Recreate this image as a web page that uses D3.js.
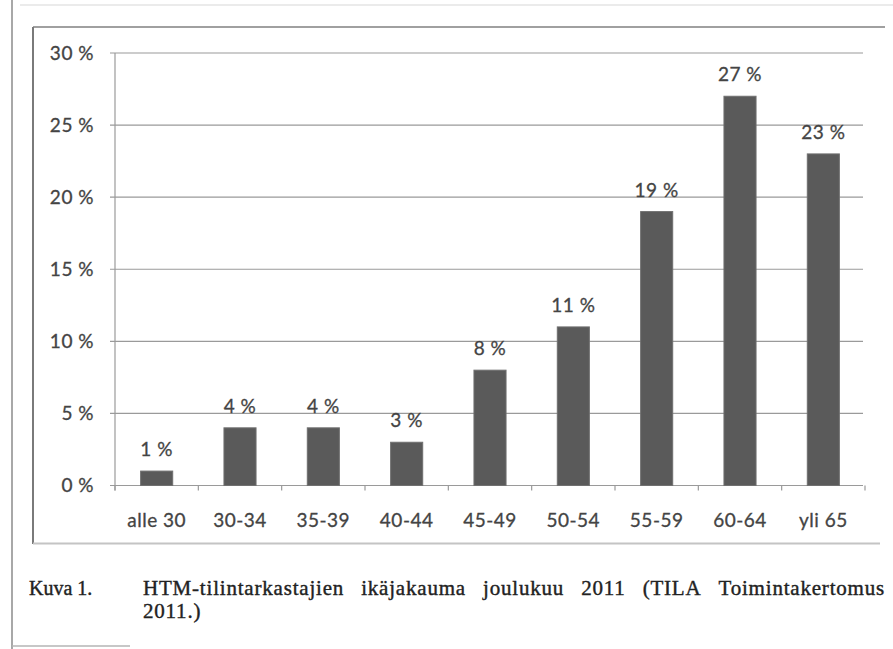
<!DOCTYPE html>
<html lang="fi">
<head>
  <meta charset="utf-8" />
  <title>HTM-tilintarkastajien ikäjakauma</title>
  <script src="https://d3js.org/d3.v7.min.js"></script>
  <style>
    body { margin: 0; background: #fff; }
    svg { display: block; }
    .lbl { font-family: Lato, "Open Sans", sans-serif; fill: #444; stroke: #444; stroke-width: 0.3px; }
    .cap { font-family: "Liberation Serif", "Times New Roman", serif; fill: #222; stroke: #222; stroke-width: 0.4px; }
  </style>
</head>
<body>
  <svg id="viz" width="893" height="649"></svg>
  <script>
    // data
    const categories = ["alle 30", "30-34", "35-39", "40-44", "45-49", "50-54", "55-59", "60-64", "yli 65"];
    const values = [1, 4, 4, 3, 8, 11, 19, 27, 23];
    const yTicks = [0, 5, 10, 15, 20, 25, 30];
    const captionLabel = "Kuva 1.";
    const captionLine1 = ["HTM-tilintarkastajien", "ikäjakauma", "joulukuu", "2011", "(TILA", "Toimintakertomus"];
    const captionLine2 = "2011.)";

    const W = 893, H = 649;
    const plot = { left: 115, right: 865, top: 53, bottom: 485.5 };

    const svg = d3.select("#viz");

    // page / frame lines of the scan
    svg.append("line").attr("x1", 12).attr("x2", 12).attr("y1", 0).attr("y2", H)
      .attr("stroke", "#a8a8a8").attr("stroke-width", 2);
    svg.append("line").attr("x1", 20).attr("x2", W).attr("y1", 5).attr("y2", 5)
      .attr("stroke", "#e4e4e4").attr("stroke-width", 1.5);
    svg.append("line").attr("x1", 12).attr("x2", 130).attr("y1", 646).attr("y2", 646)
      .attr("stroke", "#b5b5b5").attr("stroke-width", 1.5);

    svg.append("line").attr("x1", 33).attr("x2", 885).attr("y1", 27).attr("y2", 27)
      .attr("stroke", "#808080").attr("stroke-width", 1.5);
    svg.append("line").attr("x1", 33).attr("x2", 33).attr("y1", 27).attr("y2", 544)
      .attr("stroke", "#7a7a7a").attr("stroke-width", 2);
    svg.append("line").attr("x1", 33).attr("x2", 880).attr("y1", 543.5).attr("y2", 543.5)
      .attr("stroke", "#c4c4c4").attr("stroke-width", 2);

    const x = d3.scaleBand()
      .domain(categories)
      .range([plot.left, plot.right])
      .paddingInner(0.615)
      .paddingOuter(0.3075);

    const y = d3.scaleLinear().domain([0, 30]).range([plot.bottom, plot.top]);

    // gridlines
    svg.append("g").selectAll("line").data(yTicks).join("line")
      .attr("x1", plot.left - 5).attr("x2", 863)
      .attr("y1", d => y(d)).attr("y2", d => y(d))
      .attr("stroke", "#9a9a9a").attr("stroke-width", 1.2);

    // y axis line
    svg.append("line").attr("x1", plot.left).attr("x2", plot.left)
      .attr("y1", y(30)).attr("y2", y(0) + 5)
      .attr("stroke", "#9a9a9a").attr("stroke-width", 1.2);

    // x tick marks at band boundaries
    const step = x.step();
    const bounds = d3.range(categories.length + 1).map(i => plot.left + i * step);
    svg.append("g").selectAll("line").data(bounds).join("line")
      .attr("x1", d => d).attr("x2", d => d)
      .attr("y1", y(0)).attr("y2", y(0) + 5)
      .attr("stroke", "#9a9a9a").attr("stroke-width", 1.2);

    // y tick labels
    svg.append("g").selectAll("text").data(yTicks).join("text")
      .attr("class", "lbl")
      .attr("x", 94).attr("y", d => y(d))
      .attr("dy", "0.36em")
      .attr("text-anchor", "end")
      .style("font-size", "19px")
      .style("letter-spacing", "0.5px")
      .text(d => d + " %");

    // bars
    svg.append("g").selectAll("rect").data(values).join("rect")
      .attr("x", (d, i) => x(categories[i]))
      .attr("width", x.bandwidth())
      .attr("y", d => y(d))
      .attr("height", d => y(0) - y(d))
      .attr("fill", "#5a5a5a")
      .attr("stroke", "#707070").attr("stroke-width", 1);

    // value labels
    svg.append("g").selectAll("text").data(values).join("text")
      .attr("class", "lbl")
      .attr("x", (d, i) => x(categories[i]) + x.bandwidth() / 2)
      .attr("y", d => y(d) - 15)
      .attr("text-anchor", "middle")
      .style("font-size", "19px")
      .style("letter-spacing", "0.5px")
      .text(d => d + " %");

    // category labels
    svg.append("g").selectAll("text").data(categories).join("text")
      .attr("class", "lbl")
      .attr("x", d => x(d) + x.bandwidth() / 2)
      .attr("y", 527)
      .attr("text-anchor", "middle")
      .style("font-size", "19px")
      .style("letter-spacing", "0.5px")
      .text(d => d);

    // caption, first line justified to the right edge
    svg.append("text").attr("class", "cap")
      .attr("x", 29).attr("y", 595)
      .style("font-size", "20px")
      .text(captionLabel);

    const capLeft = 143, capRight = 885;
    const words = svg.append("g").selectAll("text").data(captionLine1).join("text")
      .attr("class", "cap")
      .attr("y", 595)
      .style("font-size", "21px")
      .style("letter-spacing", "0.8px")
      .text(d => d);
    const widths = [];
    words.each(function () { widths.push(this.getComputedTextLength()); });
    const gap = (capRight - capLeft - d3.sum(widths)) / (captionLine1.length - 1);
    let cx = capLeft;
    words.attr("x", (d, i) => { const v = cx; cx += widths[i] + gap; return v; });

    svg.append("text").attr("class", "cap")
      .attr("x", capLeft).attr("y", 618)
      .style("font-size", "21px")
      .style("letter-spacing", "0.8px")
      .text(captionLine2);
  </script>
</body>
</html>
